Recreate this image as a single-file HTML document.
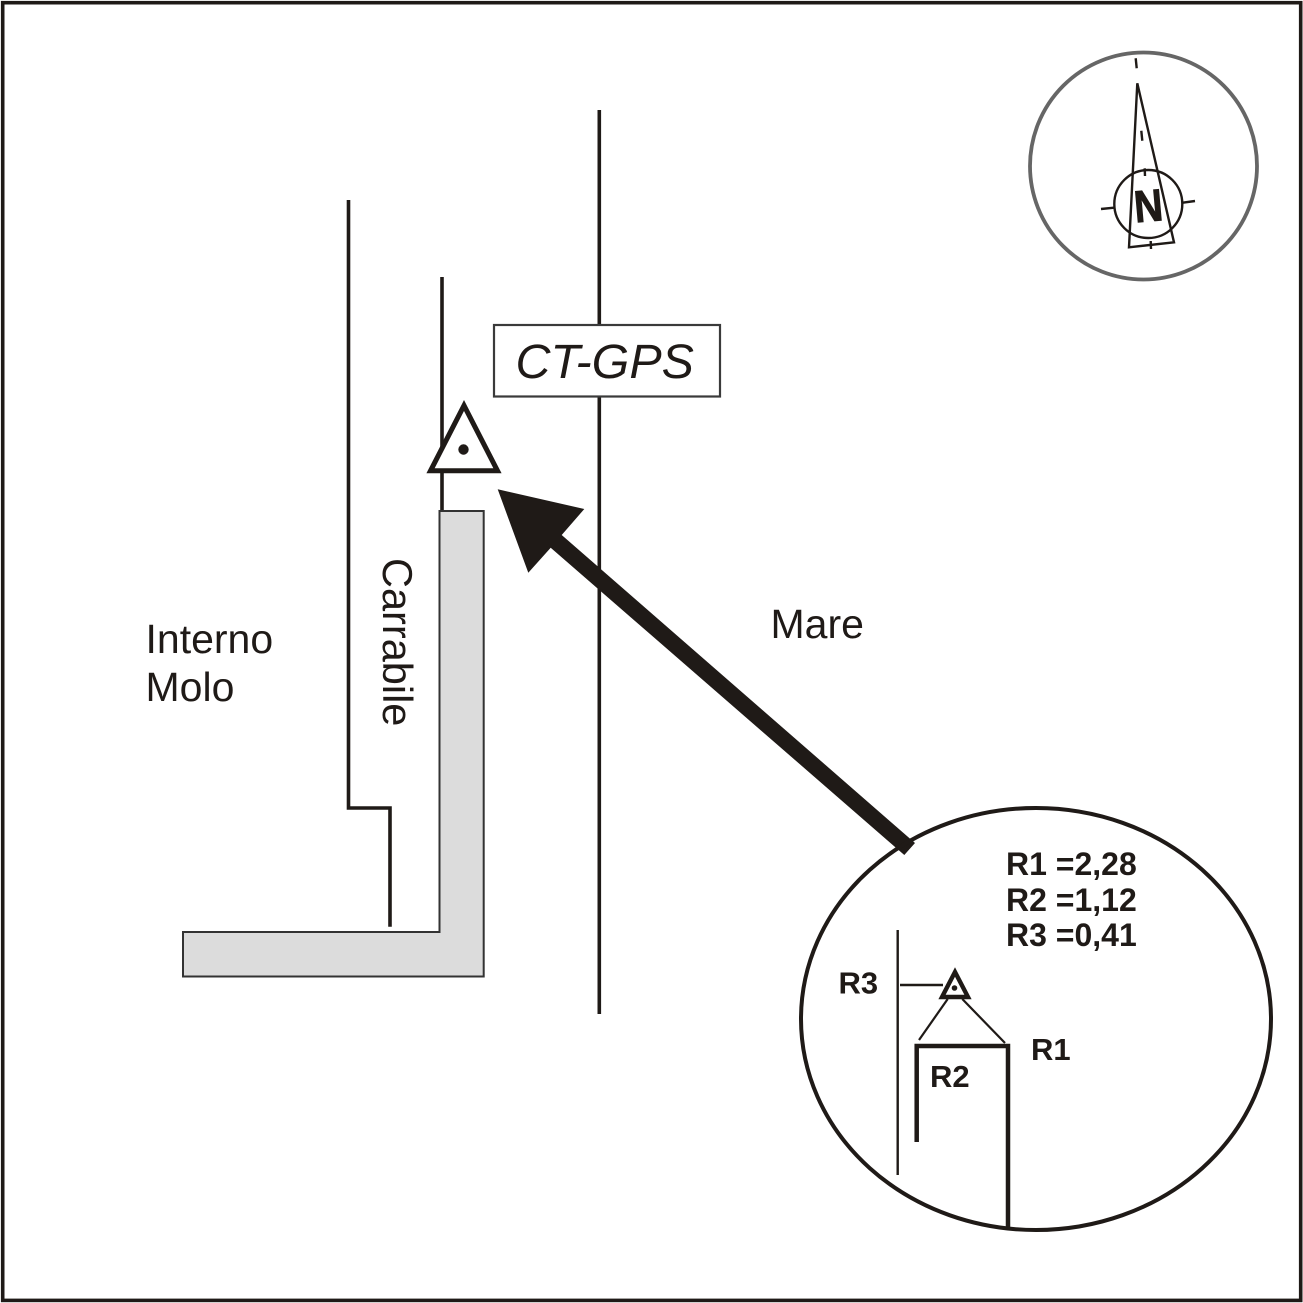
<!DOCTYPE html>
<html>
<head>
<meta charset="utf-8">
<style>
html,body{margin:0;padding:0;background:#fff}
svg{display:block}
text{font-family:"Liberation Sans",sans-serif;fill:#1f1a17}
</style>
</head>
<body>
<svg xmlns="http://www.w3.org/2000/svg" width="1303" height="1303" viewBox="0 0 1303 1303">
<rect width="1303" height="1303" fill="#fff"/>
<rect x="2.7" y="2.7" width="1298" height="1297.7" fill="none" stroke="#1f1a17" stroke-width="3.6"/>

<!-- main lines -->
<g fill="none" stroke="#1f1a17" stroke-width="3.6">
<line x1="599.3" y1="110" x2="599.3" y2="1014"/>
<line x1="442" y1="277" x2="442" y2="512"/>
<polyline points="348.5,200 348.5,808 390,808 390,926.7"/>
</g>

<!-- L shape -->
<polygon points="439.5,511 483.7,511 483.7,976.5 183,976.5 183,932 439.5,932" fill="#dcdcdc" stroke="#333" stroke-width="2"/>

<!-- label box -->
<rect x="494" y="325" width="226" height="71.5" fill="#fff" stroke="#3a3a3a" stroke-width="2.2"/>
<text x="515.5" y="378" font-size="48.4" font-style="italic">CT-GPS</text>

<!-- station triangle -->
<polygon points="464,405.5 430.5,470.8 497.5,470.8" fill="#fff" stroke="#1f1a17" stroke-width="5"/>
<circle cx="463.5" cy="449.5" r="5.2" fill="#1f1a17"/>

<!-- arrow -->
<polygon points="497.7,489.3 584.3,509 561.7,535 915,843 904.3,855 550.7,547.7 528.3,572.7" fill="#1f1a17"/>

<!-- labels -->
<text x="145.5" y="653" font-size="41">Interno</text>
<text x="145.5" y="701" font-size="41">Molo</text>
<text x="770.5" y="638" font-size="41">Mare</text>
<text transform="translate(383,558) rotate(90)" font-size="41.5">Carrabile</text>

<!-- compass -->
<circle cx="1143.5" cy="166" r="113.5" fill="#fff" stroke="#666" stroke-width="3.8"/>
<g fill="none" stroke="#1f1a17" stroke-width="2.4">
<polygon points="1137.3,83.3 1129,247.3 1174,242.3"/>
<circle cx="1148.3" cy="204" r="34"/>
<line x1="1135.7" y1="58.3" x2="1136.7" y2="68.3"/>
<line x1="1141.3" y1="130.7" x2="1142.3" y2="140.7"/>
<line x1="1144.7" y1="168.3" x2="1145" y2="176"/>
<line x1="1150.7" y1="241" x2="1151" y2="249"/>
<line x1="1101" y1="209" x2="1114" y2="207.7"/>
<line x1="1182.7" y1="202.7" x2="1195" y2="201"/>
</g>
<text transform="translate(1135.5,222.5) rotate(-5) scale(0.88,1)" font-size="45" font-weight="bold" stroke="#1f1a17" stroke-width="1">N</text>

<!-- detail lens -->
<ellipse cx="1036" cy="1019" rx="235" ry="211" fill="none" stroke="#1f1a17" stroke-width="4"/>
<text x="1006" y="875" font-size="32" font-weight="bold">R1 =2,28</text>
<text x="1006" y="911" font-size="32" font-weight="bold">R2 =1,12</text>
<text x="1006" y="946" font-size="32" font-weight="bold">R3 =0,41</text>
<text x="838.5" y="993.5" font-size="31" font-weight="bold">R3</text>
<text x="1031" y="1060" font-size="31" font-weight="bold">R1</text>
<text x="930" y="1087" font-size="31" font-weight="bold">R2</text>
<g fill="none" stroke="#1f1a17">
<line x1="897.7" y1="930" x2="897.7" y2="1175" stroke-width="2.4"/>
<line x1="900" y1="985" x2="943" y2="985" stroke-width="2.4"/>
<line x1="947.7" y1="999" x2="919" y2="1040" stroke-width="2.2"/>
<line x1="962.3" y1="999" x2="1005" y2="1043" stroke-width="2.2"/>
<polyline points="916.7,1142 916.7,1046 1008,1046 1008,1230" stroke-width="4.5"/>
<polygon points="955,972 942,997 968,997" stroke-width="4.4"/>
</g>
<circle cx="954.5" cy="988" r="2.8" fill="#1f1a17"/>
</svg>
</body>
</html>
